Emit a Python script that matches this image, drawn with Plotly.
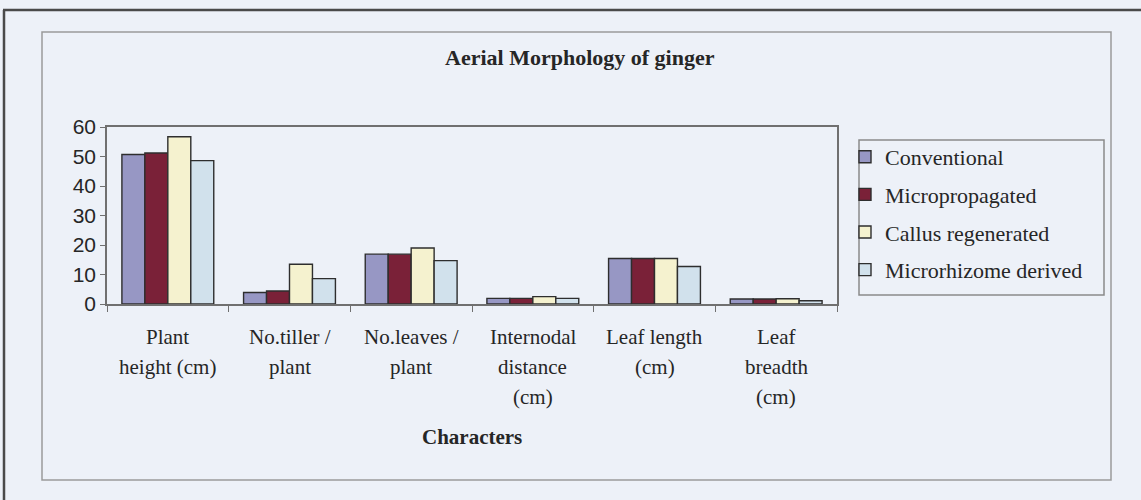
import plotly.graph_objects as go

# Morphological characters measured on the aerial parts
categories = ["Plant height (cm)", "No.tiller / plant", "No.leaves / plant",
              "Internodal distance (cm)", "Leaf length (cm)", "Leaf breadth (cm)"]
tick_lines = [["Plant", "height (cm)"],
              ["No.tiller /", "plant"],
              ["No.leaves /", "plant"],
              ["Internodal", "distance", "(cm)"],
              ["Leaf length", "(cm)"],
              ["Leaf", "breadth", "(cm)"]]

series_names = ["Conventional", "Micropropagated", "Callus regenerated", "Microrhizome derived"]
conventional = [50.7, 3.9, 16.9, 1.9, 15.4, 1.7]
micropropagated = [51.2, 4.4, 16.9, 1.9, 15.4, 1.7]
callus = [56.7, 13.5, 19.0, 2.5, 15.4, 1.8]
microrhizome = [48.6, 8.6, 14.7, 1.9, 12.7, 1.1]
series_values = [conventional, micropropagated, callus, microrhizome]
colors = ["#9797c4", "#7a2138", "#f5f2cf", "#d1e1ec"]

BG = "#edf1f8"
W, H = 1141, 500
L, R, T, B = 107, 837, 127, 304   # plot area in pixels


def px_x(x):
    return (x - L) / (R - L)


def px_y(y):
    return (B - y) / (B - T)


fig = go.Figure()
for i, (name, vals, col) in enumerate(zip(series_names, series_values, colors)):
    fig.add_trace(go.Bar(
        x=categories, y=vals, name=name,
        marker=dict(color=col, line=dict(color="#2e2e2e", width=1.4)),
        legendgroup=f"g{i}",
    ))

serif = "Liberation Serif, Times New Roman, serif"
sans = "Liberation Sans, Arial, sans-serif"

annotations = []
# category labels, one line each
for cat, lines in zip(categories, tick_lines):
    for j, line in enumerate(lines):
        annotations.append(dict(
            x=cat, xref="x", y=px_y(337 + 30 * j), yref="paper",
            text=line, showarrow=False, xanchor="center", yanchor="middle",
            font=dict(family=serif, size=21, color="#262626"),
        ))
annotations.append(dict(
    x=0.5, xref="paper", y=px_y(437), yref="paper", text="<b>Characters</b>",
    showarrow=False, xanchor="center", yanchor="middle",
    font=dict(family=serif, size=21, color="#262626"),
))
annotations.append(dict(
    x=px_x(580), xref="paper", y=px_y(58), yref="paper",
    text="<b>Aerial Morphology of ginger</b>",
    showarrow=False, xanchor="center", yanchor="middle",
    font=dict(family=serif, size=22, color="#262626"),
))

shapes = [
    # outer frame lines
    dict(type="line", xref="paper", yref="paper", x0=px_x(3), x1=px_x(1141),
         y0=px_y(10), y1=px_y(10), line=dict(color="#4a4a4a", width=2.5)),
    dict(type="line", xref="paper", yref="paper", x0=px_x(4), x1=px_x(4),
         y0=px_y(10), y1=px_y(500), line=dict(color="#4a4a4a", width=2.5)),
    # chart frame
    dict(type="rect", xref="paper", yref="paper", x0=px_x(42), x1=px_x(1111),
         y0=px_y(32), y1=px_y(480), line=dict(color="#9a9a9a", width=1.5), layer="below"),
    # legend box
    dict(type="rect", xref="paper", yref="paper", x0=px_x(859), x1=px_x(1104),
         y0=px_y(140), y1=px_y(295), line=dict(color="#8a8a8a", width=1.5)),
]

fig.update_layout(
    width=W, height=H,
    margin=dict(l=L, r=W - R, t=T, b=H - B),
    paper_bgcolor=BG, plot_bgcolor=BG,
    barmode="group", bargap=0.245, bargroupgap=0,
    showlegend=True,
    legend=dict(
        x=px_x(845), y=px_y(136), xanchor="left", yanchor="top",
        bgcolor="rgba(0,0,0,0)", borderwidth=0,
        font=dict(family=serif, size=22, color="#262626"),
        traceorder="grouped", tracegroupgap=6, itemwidth=30,
    ),
    xaxis=dict(
        showticklabels=False, showline=True, linecolor="#707070", linewidth=1.5,
        mirror=True, ticks="outside", tickson="boundaries", ticklen=6,
        tickcolor="#707070", showgrid=False,
    ),
    yaxis=dict(
        range=[0, 60], dtick=10, showline=True, linecolor="#707070", linewidth=1.5,
        mirror=True, ticks="outside", ticklen=5, tickcolor="#707070",
        showgrid=False, zeroline=False,
        tickfont=dict(family=sans, size=21, color="#262626"),
    ),
    annotations=annotations, shapes=shapes,
)

fig.write_html("out.html")
